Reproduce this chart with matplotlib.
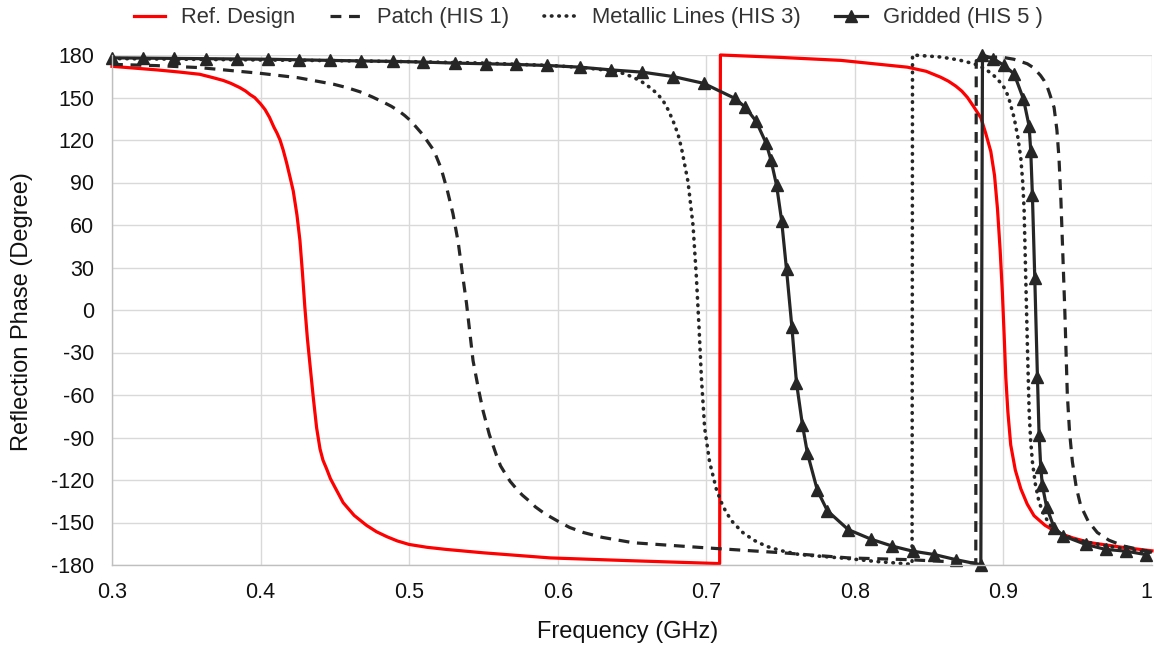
import matplotlib
matplotlib.use("Agg")
import matplotlib.pyplot as plt

plt.rcParams['font.family'] = ['Liberation Sans', 'DejaVu Sans']

# Ref. Design (two branches, jump at ~0.709 GHz)
ref_f = [0.300, 0.330, 0.345, 0.359, 0.368, 0.375, 0.380, 0.386, 0.390, 0.393,
         0.396, 0.400, 0.403, 0.406, 0.409, 0.411, 0.4131, 0.4152, 0.4175, 0.420,
         0.422, 0.4245, 0.4265, 0.4282, 0.4298, 0.4315, 0.4332, 0.4355, 0.4377, 0.440,
         0.442, 0.4444, 0.447, 0.450, 0.4556, 0.4630, 0.4713, 0.478, 0.485, 0.492,
         0.500, 0.512, 0.525, 0.550, 0.595, 0.650, 0.709,
         0.7095, 0.750, 0.7906, 0.8354, 0.848, 0.8578, 0.863, 0.868, 0.872, 0.8758,
         0.880, 0.8848, 0.888, 0.8915, 0.894, 0.896, 0.8978, 0.8993, 0.9005, 0.9016,
         0.9030, 0.9049, 0.9080, 0.9117, 0.9160, 0.9206, 0.928, 0.9363, 0.947, 0.9587,
         0.980, 1.000]
ref_ph = [172, 169.5, 168, 166.4, 164, 162, 160, 157, 154.5, 152,
          150, 145.5, 141.5, 136, 129, 125, 120, 113, 104, 93,
          84, 67, 49, 26, 2, -20, -38, -62, -83, -98,
          -106, -112, -119, -125, -136, -145, -152, -156.5, -160, -163,
          -165.5, -167.5, -169, -171.4, -175, -177, -179,
          180, 178.3, 176.2, 171.4, 168.5, 164.3, 161.5, 158, 154.5, 150,
          143.5, 135.7, 125, 111.9, 95, 71.4, 42, 12, -18, -47.6,
          -72, -95.2, -113, -126.2, -137, -145.2, -152, -157.1, -161, -164.3,
          -167.5, -170]

# Patch (HIS 1)
patch_f = [0.300, 0.330, 0.359, 0.3995, 0.425, 0.449, 0.458, 0.467, 0.475, 0.483,
           0.488, 0.493, 0.497, 0.501, 0.509, 0.5167, 0.5215, 0.5257, 0.5295, 0.533,
           0.5358, 0.5386, 0.543, 0.5465, 0.5498, 0.554, 0.5587, 0.5615, 0.565, 0.568,
           0.5722, 0.576, 0.581, 0.585, 0.5901, 0.595, 0.600, 0.608, 0.6174, 0.630,
           0.6509, 0.700, 0.7513, 0.796, 0.8354, 0.8814,
           0.8817, 0.890, 0.8982, 0.907, 0.9161, 0.9195, 0.922, 0.925, 0.9274, 0.9295,
           0.931, 0.9341, 0.936, 0.9374, 0.9386, 0.9397, 0.9413, 0.943, 0.9445, 0.9464,
           0.949, 0.952, 0.957, 0.9632, 0.971, 0.9812, 1.000]
patch_ph = [173.4, 172.5, 171.1, 167.1, 164, 159.4, 157, 154, 150.5, 146.5,
            143.8, 140.5, 137.3, 133.6, 124, 112.5, 100, 84.4, 68, 48,
            26, 4.8, -35.7, -55, -71.4, -88, -102.4, -110, -116, -121,
            -126.2, -130.5, -135, -139, -142.9, -146, -149, -153.5, -157.1, -160.5,
            -164.3, -167.9, -171.4, -175, -176.2, -178.6,
            176, 178.3, 178.6, 177, 173.8, 171.5, 169, 165.5, 161.9, 157.5,
            153, 142.9, 127, 107.1, 80, 47.6, 0, -59.5, -86, -107.1,
            -125, -138.1, -149, -157.1, -162.5, -166.7, -171]

# Metallic Lines (HIS 3)
metal_f = [0.300, 0.350, 0.400, 0.450, 0.500, 0.550, 0.595, 0.615, 0.6353, 0.644,
           0.6509, 0.657, 0.662, 0.667, 0.671, 0.6745, 0.6777, 0.681, 0.6833, 0.6877,
           0.6911, 0.6933, 0.6951, 0.6967, 0.6989, 0.7022, 0.7067, 0.7098, 0.7134, 0.718,
           0.7246, 0.732, 0.7402, 0.750, 0.7625, 0.796, 0.813, 0.8385,
           0.8388, 0.8578, 0.870, 0.8803, 0.885, 0.8892, 0.8925, 0.895, 0.898, 0.9004,
           0.9025, 0.904, 0.9072, 0.9097, 0.9117, 0.9130, 0.9139, 0.915, 0.9161, 0.9173,
           0.9183, 0.9195, 0.9215, 0.924, 0.9275, 0.9318, 0.939, 0.9475, 0.970, 1.000]
metal_ph = [177.5, 177, 176.5, 176, 175.3, 174.3, 172.6, 171.3, 169, 167,
            164.3, 160.8, 157.1, 152.7, 147.6, 141, 133.3, 124, 114.3, 90.5,
            59.5, 23.8, -11.9, -47.6, -83.3, -107.1, -126.2, -135, -142.9, -150,
            -157.1, -162.5, -166.7, -169.8, -172.6, -175.5, -177.4, -179.5,
            180, 178.6, 176.5, 173.8, 171.6, 169, 166.5, 164, 160.5, 157.1,
            152.5, 148, 135.7, 122, 107.1, 90, 71.4, 23.8, -23.8, -71.4,
            -92, -107.1, -123, -135.7, -145, -152.4, -158, -161.9, -166.7, -171.4]

# Gridded (HIS 5)
grid_f = [0.300, 0.3207, 0.3419, 0.3631, 0.3838, 0.4052, 0.426, 0.4466, 0.4679, 0.4888,
          0.5094, 0.5307, 0.552, 0.5722, 0.593, 0.6152, 0.6357, 0.6569, 0.6777, 0.6982,
          0.719, 0.7261, 0.7335, 0.7402, 0.7435, 0.7473, 0.7507, 0.754, 0.7576, 0.7607,
          0.7647, 0.7681, 0.7748, 0.7815, 0.7955, 0.8112, 0.8253, 0.8388, 0.8534, 0.8679,
          0.8848,
          0.8859, 0.8933, 0.9004, 0.9072, 0.9135, 0.9173, 0.9184, 0.9195, 0.9211, 0.9229,
          0.924, 0.9251, 0.9262, 0.9291, 0.9341, 0.9404, 0.9554, 0.9688, 0.9823, 0.9957]
grid_ph = [178, 177.8, 177.6, 177.4, 177.2, 177, 176.6, 176.2, 175.8, 175.5,
           175, 174.3, 173.8, 173.3, 172.6, 171.4, 169.5, 167.9, 164.8, 160,
           149.5, 143.3, 133.3, 117.9, 106, 88.1, 63.1, 28.6, -11.9, -51.2,
           -81, -101.2, -127.4, -141.7, -155, -161.9, -166.7, -170.2, -172.6, -176.2,
           -179.8,
           180, 177.4, 172.6, 166.7, 148.8, 129.8, 111.9, 81, 22.6, -47.6,
           -88.1, -110.7, -123.8, -139.3, -153.6, -159.5, -165.5, -169, -170.2, -172.6]

x_ticks = [0.3, 0.4, 0.5, 0.6, 0.7, 0.8, 0.9, 1.0]
x_labels = ["0.3", "0.4", "0.5", "0.6", "0.7", "0.8", "0.9", "1"]
y_ticks = list(range(-180, 181, 30))
y_labels = [str(v) for v in y_ticks]

dark = "#262626"

fig = plt.figure(figsize=(11.54, 6.48), dpi=100)
ax = fig.add_axes([112 / 1154, 1 - 565 / 648, 1040 / 1154, 510 / 648])

ax.plot(ref_f, ref_ph, color="#ff0000", lw=2.3, label="Ref. Design", clip_on=False)
ax.plot(patch_f, patch_ph, color=dark, lw=2.3, dashes=(3.4, 2.4), label="Patch (HIS 1)",
        clip_on=False)
ax.plot(metal_f, metal_ph, color=dark, lw=2.6, dashes=(0.15, 1.9), dash_capstyle="round",
        label="Metallic Lines (HIS 3)", clip_on=False)
ax.plot(grid_f, grid_ph, color=dark, lw=2.3, marker="^", ms=8.5, label="Gridded (HIS 5 )",
        clip_on=False)

ax.set_xlim(0.3, 1.0)
ax.set_ylim(-180, 180)
ax.set_xticks(x_ticks)
ax.set_xticklabels(x_labels)
ax.set_yticks(y_ticks)
ax.set_yticklabels(y_labels)
ax.tick_params(axis="both", length=0, labelsize=15.5, labelcolor="#111111")
ax.tick_params(axis="x", pad=12)
ax.tick_params(axis="y", pad=13)
ax.get_xticklabels()[-1].set_horizontalalignment("right")

ax.grid(True, color="#d9d9d9", lw=1.0)
ax.set_axisbelow(True)
for side in ["top", "right"]:
    ax.spines[side].set_visible(False)
for side in ["left", "bottom"]:
    ax.spines[side].set_color("#bfbfbf")
    ax.spines[side].set_linewidth(1.0)

fig.text(628 / 1154, 1 - 632 / 648, "Frequency (GHz)", ha="center", va="center",
         fontsize=17, color="#111111")
fig.text(22 / 1154, 1 - 312 / 648, "Reflection Phase (Degree)", ha="center", va="center",
         rotation=90, fontsize=17, color="#111111")

fig.legend(loc="center", bbox_to_anchor=(588 / 1154, 1 - 18 / 648), ncol=4, frameon=False,
           fontsize=15.8, handlelength=1.45, handletextpad=0.7, columnspacing=1.6,
           labelcolor="#333333")

fig.savefig("out.png", dpi=100)
